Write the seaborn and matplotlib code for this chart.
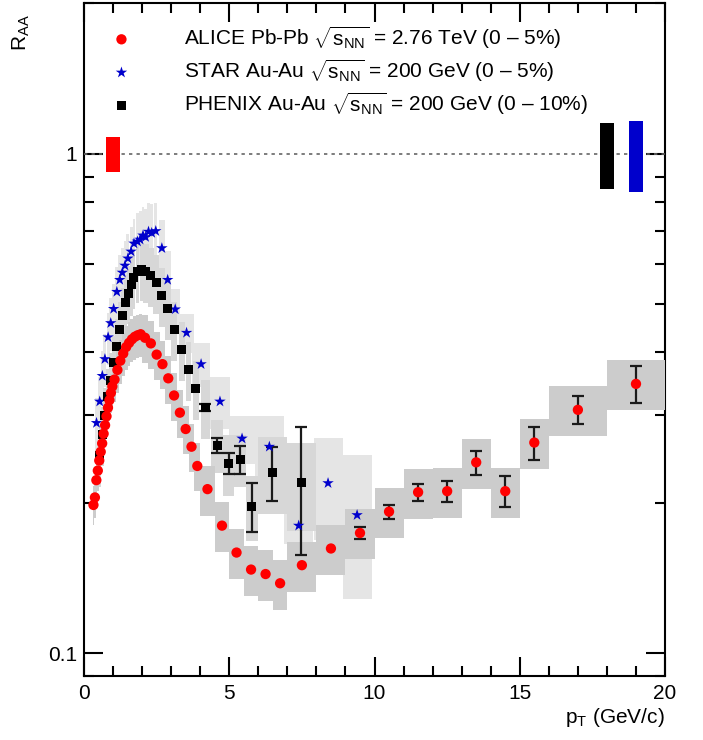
import matplotlib
matplotlib.use('Agg')
import matplotlib.pyplot as plt
import numpy as np
import pandas as pd
import seaborn as sns

# ALICE Pb-Pb 2.76 TeV (0-5%)
alice_pt = [0.325, 0.375, 0.425, 0.475, 0.525, 0.575, 0.625, 0.675, 0.725, 0.775,
            0.825, 0.875, 0.925, 0.975, 1.05, 1.15, 1.25, 1.35, 1.45, 1.55,
            1.65, 1.75, 1.85, 1.95, 2.1, 2.3, 2.5, 2.7, 2.9, 3.1,
            3.3, 3.5, 3.7, 3.9, 4.25, 4.75, 5.25, 5.75, 6.25, 6.75,
            7.5, 8.5, 9.5, 10.5, 11.5, 12.5, 13.5, 14.5, 15.5, 17.0, 19.0]
alice_raa = [0.198, 0.205, 0.222, 0.232, 0.243, 0.253, 0.263, 0.275, 0.286, 0.298,
             0.310, 0.321, 0.332, 0.342, 0.353, 0.369, 0.385, 0.398, 0.410, 0.418,
             0.425, 0.430, 0.433, 0.435, 0.428, 0.417, 0.396, 0.379, 0.355, 0.328,
             0.303, 0.281, 0.259, 0.237, 0.213, 0.180, 0.159, 0.147, 0.144, 0.138,
             0.150, 0.162, 0.174, 0.192, 0.210, 0.211, 0.241, 0.211, 0.264, 0.307, 0.346]
alice_stat = [0] * 42 + [0.0045, 0.006, 0.0085, 0.0105, 0.0135, 0.015, 0.020, 0.020, 0.029]
alice_syst = [0.09] * 14 + [0.10] * 10 + [0.11] * 10 + [0.115] * 17
alice_dpt = [0.025] * 14 + [0.05] * 10 + [0.1] * 10 + [0.25] * 6 + [0.5] * 9 + [1.0] * 2

# STAR Au-Au 200 GeV (0-5%)
star_pt = [0.43, 0.54, 0.63, 0.72, 0.83, 0.92, 1.02, 1.13, 1.23, 1.32,
           1.41, 1.51, 1.62, 1.72, 1.84, 1.93, 2.03, 2.12, 2.22, 2.33,
           2.47, 2.68, 2.88, 3.14, 3.53, 4.03, 4.68, 5.44, 6.38, 7.39, 8.40, 9.40]
star_raa = [0.289, 0.319, 0.359, 0.388, 0.429, 0.458, 0.489, 0.529, 0.559, 0.578,
            0.597, 0.617, 0.637, 0.661, 0.667, 0.673, 0.686, 0.681, 0.698, 0.694,
            0.700, 0.647, 0.559, 0.488, 0.438, 0.379, 0.319, 0.269, 0.259, 0.180, 0.219, 0.189]
star_syst = [0.12] * 14 + [0.14] * 9 + [0.10, 0.09, 0.10, 0.12, 0.11, 0.15, 0.08, 0.23, 0.32]
star_dpt = [0.05] * 21 + [0.1, 0.1, 0.16, 0.26, 0.32, 0.36, 0.45, 0.5, 0.5, 0.5, 0.5]

# PHENIX Au-Au 200 GeV (0-10%)
phenix_pt = [0.55, 0.64, 0.72, 0.81, 0.91, 1.00, 1.13, 1.23, 1.32, 1.44,
             1.53, 1.64, 1.72, 1.84, 1.99, 2.13, 2.30, 2.49, 2.68, 2.89,
             3.11, 3.36, 3.60, 3.85, 4.17, 4.58, 4.98, 5.38, 5.78, 6.48, 7.48]
phenix_raa = [0.249, 0.274, 0.299, 0.326, 0.352, 0.381, 0.412, 0.444, 0.474, 0.503,
              0.526, 0.547, 0.566, 0.582, 0.585, 0.582, 0.570, 0.551, 0.521, 0.489,
              0.444, 0.406, 0.370, 0.338, 0.310, 0.261, 0.240, 0.244, 0.197, 0.230, 0.220]
phenix_stat = [0] * 24 + [0.005, 0.009, 0.012, 0.016, 0.0225, 0.0285, 0.063]
phenix_syst = [0.135] * 25 + [0.12, 0.14, 0.12, 0.15, 0.175, 0.20]
phenix_dpt = [0.05] * 15 + [0.1] * 9 + [0.15, 0.2, 0.2, 0.2, 0.2, 0.5, 0.5]

# normalisation uncertainties at R_AA = 1
norm_x = [1.0, 18.0, 19.0]
norm_unc = [0.08, 0.15, 0.16]
norm_colors = ['#ff0000', '#000000', '#0000cc']

labels = [r'ALICE Pb-Pb $\sqrt{\mathrm{s}_{\mathrm{NN}}}$ = 2.76 TeV (0 – 5%)',
          r'STAR Au-Au $\sqrt{\mathrm{s}_{\mathrm{NN}}}$ = 200 GeV (0 – 5%)',
          r'PHENIX Au-Au $\sqrt{\mathrm{s}_{\mathrm{NN}}}$ = 200 GeV (0 – 10%)']

sns.set_style('ticks', {'axes.edgecolor': 'black', 'xtick.color': 'black',
                        'ytick.color': 'black', 'text.color': 'black',
                        'axes.labelcolor': 'black'})
plt.rcParams['font.family'] = ['Liberation Sans', 'DejaVu Sans']
plt.rcParams['mathtext.fontset'] = 'custom'
plt.rcParams['mathtext.rm'] = 'Liberation Sans'
plt.rcParams['mathtext.it'] = 'Liberation Sans:italic'

df_alice = pd.DataFrame({'pt': alice_pt, 'raa': alice_raa, 'stat': alice_stat,
                         'syst': alice_syst, 'dpt': alice_dpt})
df_star = pd.DataFrame({'pt': star_pt, 'raa': star_raa, 'syst': star_syst, 'dpt': star_dpt})
df_phenix = pd.DataFrame({'pt': phenix_pt, 'raa': phenix_raa, 'stat': phenix_stat,
                          'syst': phenix_syst, 'dpt': phenix_dpt})

fig = plt.figure(figsize=(7.03, 7.40), dpi=100)
ax = fig.add_axes([0.1195, 0.0865, 0.8265, 0.909])
ax.set_yscale('log')

# systematic boxes
for d, col, z in [(df_star, '#e5e5e5', 1), (df_phenix, '#d7d7d7', 2), (df_alice, '#cccccc', 3)]:
    ax.bar(d['pt'], 2 * d['syst'] * d['raa'], width=2 * d['dpt'],
           bottom=d['raa'] * (1 - d['syst']), color=col, linewidth=0, zorder=z)

ax.bar(norm_x, [2 * u for u in norm_unc], width=0.5,
       bottom=[1 - u for u in norm_unc], color=norm_colors, linewidth=0, zorder=4)
ax.axhline(1.0, color='#666666', lw=1.2, ls=(0, (2, 2.5)), zorder=3.5)

# statistical errors
for d in [df_alice, df_phenix]:
    e = d[d['stat'] > 0]
    ax.errorbar(e['pt'], e['raa'], yerr=e['stat'], fmt='none', ecolor='#1a1a1a',
                elinewidth=1.6, capsize=4.5, capthick=1.6, zorder=5)

sns.scatterplot(data=df_star, x='pt', y='raa', marker='*', s=75, color='#0000cc',
                edgecolor='none', ax=ax, zorder=6, label=labels[1])
sns.scatterplot(data=df_phenix, x='pt', y='raa', marker='s', s=42, color='black',
                edgecolor='none', ax=ax, zorder=6, label=labels[2])
sns.scatterplot(data=df_alice, x='pt', y='raa', marker='o', s=55, color='#ff0000',
                edgecolor='none', ax=ax, zorder=7, label=labels[0])

h, l = ax.get_legend_handles_labels()
order = [2, 0, 1]
ax.legend([h[i] for i in order], [l[i] for i in order], loc='upper left',
          bbox_to_anchor=(0.025, 0.985), frameon=False, fontsize=15,
          handlelength=1.2, handletextpad=2.4, labelspacing=0.3, borderpad=0)

ax.set_xlim(0, 20)
ax.set_ylim(0.09, 2.0)
ax.set_xticks([0, 5, 10, 15, 20])
ax.set_xticks(np.arange(0, 21, 1), minor=True)
ax.set_yticks([0.1, 1])
ax.set_yticklabels(['0.1', '1'])
ax.yaxis.set_minor_formatter(matplotlib.ticker.NullFormatter())
ax.tick_params(which='both', direction='in', top=True, right=True, labelsize=15,
               width=1.5, color='black', labelcolor='black')
ax.tick_params(which='major', length=14)
ax.tick_params(which='minor', length=7)
ax.tick_params(axis='x', pad=6)
ax.tick_params(axis='y', pad=5)
for sp in ax.spines.values():
    sp.set_linewidth(1.5)
    sp.set_color('black')

ax.set_xlabel(r'p$_{\mathrm{T}}$ (GeV/c)', fontsize=15, loc='right')
ax.xaxis.set_label_coords(1.0, -0.045)
ax.set_ylabel(r'R$_{\mathrm{AA}}$', fontsize=15, loc='top')
ax.yaxis.set_label_coords(-0.09, 0.984)

fig.savefig('out.png', dpi=100)
